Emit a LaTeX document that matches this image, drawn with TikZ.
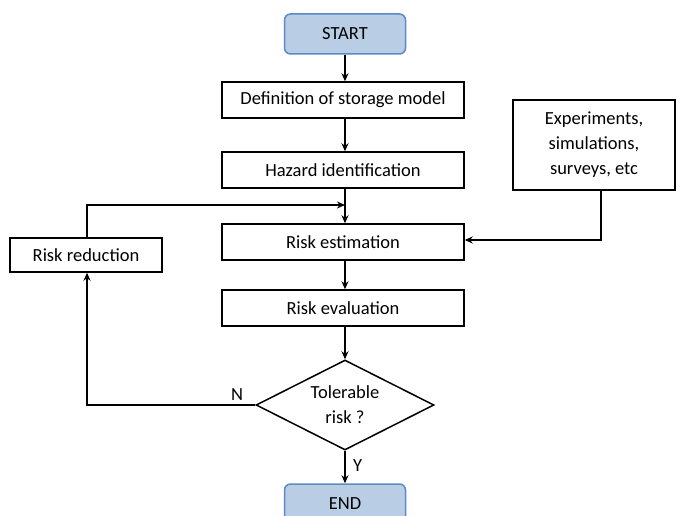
\documentclass[tikz,border=0pt]{standalone}
\usepackage{fontspec}
\setmainfont{Carlito}
\usetikzlibrary{shapes.geometric,arrows.meta}
\definecolor{termfill}{HTML}{B9CDE5}
\definecolor{termdraw}{HTML}{5B8AC6}
\begin{document}
\begin{tikzpicture}[x=1pt,y=-1pt,
  font=\fontsize{18.5}{25}\selectfont,
  box/.style={draw,line width=1.5pt,minimum height=36pt,inner sep=2pt},
  wide/.style={box,minimum width=242pt},
  term/.style={draw=termdraw,fill=termfill,line width=1.5pt,rounded corners=6pt,minimum width=121pt,minimum height=40pt},
  dec/.style={draw,line width=1.5pt,diamond,aspect=2,minimum width=178pt,minimum height=90pt,inner sep=0pt,align=center},
  arr/.style={-{Stealth[length=8pt,width=7pt]},line width=1.5pt},
  ln/.style={line width=1.5pt}]
\useasboundingbox (0,0) rectangle (677,516);
\node[term] (start) at (345,34) {START};
\node[wide] (def) at (343,100) {Definition of storage model};
\node[wide] (haz) at (343,170) {Hazard identification};
\node[wide] (est) at (343,242) {Risk estimation};
\node[wide] (eval) at (343,308) {Risk evaluation};
\node[dec] (tol) at (345,405) {Tolerable\\risk ?};
\node[term] (end) at (345,504) {END};
\node[box,minimum width=152pt,minimum height=34pt] (red) at (86,255) {Risk reduction};
\node[box,minimum width=162pt,minimum height=90pt,align=center] (exp) at (594,145) {Experiments,\\simulations,\\surveys, etc};
\coordinate (loopin) at (345,205);
\coordinate (loopc) at (87,205);
\coordinate (nc) at (87,405);
\coordinate (ec) at (601,240);
\draw[arr] (start.south) -- (def.north -| start.south);
\draw[arr] (def.south -| start.south) -- (haz.north -| start.south);
\draw[arr] (haz.south -| start.south) -- (est.north -| start.south);
\draw[arr] (est.south -| start.south) -- (eval.north -| start.south);
\draw[arr] (eval.south -| start.south) -- (tol.north);
\draw[arr] (tol.south) -- (end.north) node[pos=0.45,right=4pt] {Y};
\draw[arr] (tol.west) -- (nc) -- (red.south -| nc);
\node at (237,395) {N};
\draw[arr] (red.north -| loopc) -- (loopc) -- (loopin);
\draw[arr] (exp.south -| ec) -- (ec) -- (est.east |- ec);
\end{tikzpicture}
\end{document}
